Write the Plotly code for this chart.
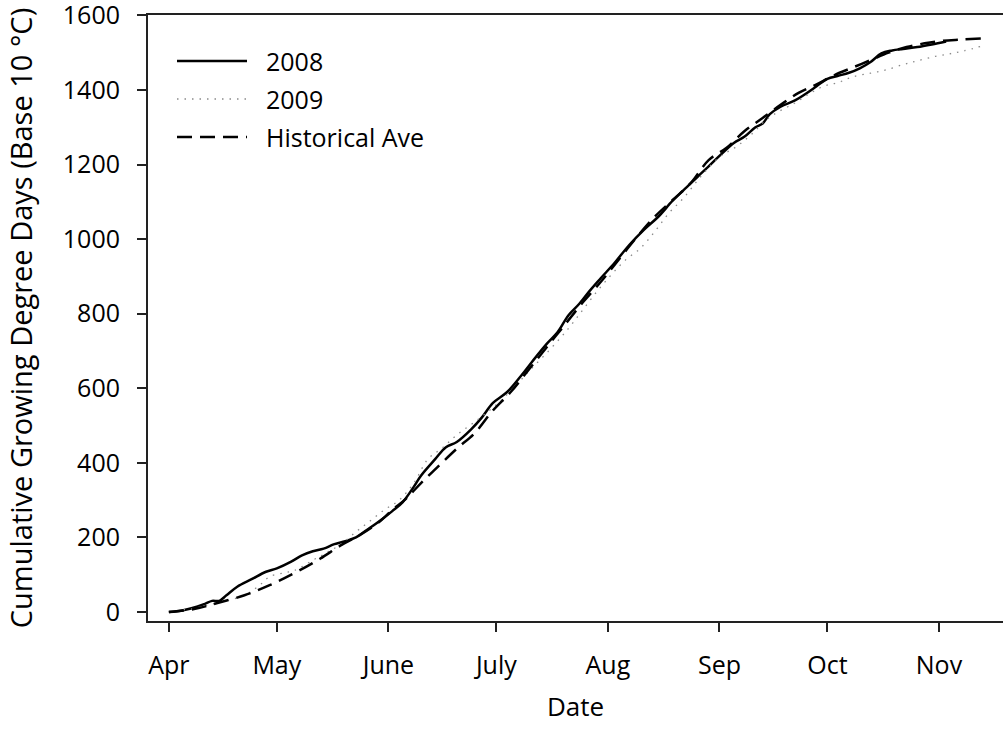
import plotly.graph_objects as go

# Days counted from 1 April; values are cumulative GDD (base 10 °C)
days_2008 = [0, 4, 8, 10, 12, 14, 16, 19, 23, 27, 30, 34, 37, 40, 43, 46, 49, 52, 55, 58,
             62, 65, 68, 70, 74, 77, 80, 84, 87, 90, 94, 98, 101, 105, 108, 111, 114, 117,
             120, 124, 128, 132, 136, 140, 144, 147, 150, 153, 157, 160, 163, 165, 167, 170,
             174, 177, 180, 183, 186, 189, 192, 195, 198, 201, 204, 208, 212, 216]
gdd_2008 = [0, 5, 15, 22, 30, 30, 45, 68, 88, 108, 117, 135, 152, 163, 170, 182, 190, 200, 220, 240,
            270, 295, 335, 365, 410, 442, 456, 490, 522, 560, 590, 635, 672, 719, 750, 795, 826, 862,
            895, 938, 985, 1025, 1060, 1103, 1140, 1168, 1195, 1223, 1258, 1275, 1300, 1310, 1335, 1355,
            1372, 1390, 1410, 1430, 1438, 1446, 1458, 1475, 1498, 1506, 1510, 1515, 1522, 1530]

days_2009 = [0, 3, 7, 11, 16, 21, 25, 28, 32, 35, 40, 44, 48, 52, 56, 60, 64, 68, 72, 76,
             80, 85, 90, 95, 100, 106, 111, 115, 119, 123, 127, 131, 135, 139, 143, 148, 153,
             158, 162, 166, 170, 174, 178, 182, 186, 190, 195, 199, 204, 208, 213, 217, 221, 226]
gdd_2009 = [0, 5, 10, 19, 30, 45, 70, 95, 105, 112, 139, 160, 183, 215, 245, 275, 300, 345, 410, 440,
            475, 510, 548, 593, 645, 705, 760, 810, 860, 905, 945, 975, 1020, 1070, 1110, 1170, 1220,
            1250, 1282, 1320, 1345, 1365, 1390, 1410, 1420, 1435, 1445, 1453, 1468, 1478, 1490, 1497, 1505, 1518]

days_hist = [0, 7, 13, 21, 28, 35, 42, 48, 53, 58, 62, 66, 70, 75, 80, 85, 90, 95, 100, 105,
             110, 115, 120, 125, 130, 135, 140, 145, 150, 155, 160, 165, 170, 175, 180, 185, 190,
             195, 200, 205, 210, 215, 220, 226]
gdd_hist = [0, 8, 23, 45, 72, 105, 143, 180, 206, 238, 273, 305, 345, 392, 438, 480, 540, 590, 650, 710,
            770, 830, 885, 945, 1005, 1060, 1105, 1150, 1212, 1245, 1290, 1325, 1360, 1392, 1415, 1440, 1460,
            1480, 1500, 1515, 1525, 1532, 1535, 1538]

month_days = [0, 30, 61, 91, 122, 153, 183, 214]
month_labels = ["Apr", "May", "June", "July", "Aug", "Sep", "Oct", "Nov"]
y_ticks = [0, 200, 400, 600, 800, 1000, 1200, 1400, 1600]

series = [
    ("2008", days_2008, gdd_2008, dict(color="black", width=2.5, dash="solid")),
    ("2009", days_2009, gdd_2009, dict(color="#8a8a8a", width=1.3, dash="1.5px,6px")),
    ("Historical Ave", days_hist, gdd_hist, dict(color="black", width=2.5, dash="15px,8px")),
]

FONT = "Open Sans"
W, H = 1003, 742
L, R, T, B = 148, 0, 15, 121

fig = go.Figure()
for name, xs, ys, ln in series:
    fig.add_trace(go.Scatter(x=xs, y=ys, mode="lines", name=name, line=ln,
                             line_shape="spline", showlegend=False))

# Hand-drawn legend in the upper-left corner
pw, ph = W - L - R, H - T - B
def px_x(p):
    return (p - L) / pw
def px_y(p):
    return (H - B - p) / ph

rows = [61, 99, 137]
for (name, _, _, ln), ry in zip(series, rows):
    fig.add_shape(type="line", xref="paper", yref="paper",
                  x0=px_x(177), x1=px_x(247), y0=px_y(ry), y1=px_y(ry),
                  line=ln)
    fig.add_annotation(xref="paper", yref="paper", x=px_x(264), y=px_y(ry),
                       text=name, showarrow=False, xanchor="left", yanchor="middle",
                       font=dict(family=FONT, size=25, color="black"))

fig.update_layout(
    width=W, height=H,
    margin=dict(l=L, r=R, t=T, b=B),
    plot_bgcolor="white", paper_bgcolor="white",
    font=dict(family=FONT, size=25, color="black"),
    showlegend=False,
)
fig.update_xaxes(
    range=[-5.8, 231.8], tickmode="array", tickvals=month_days, ticktext=month_labels,
    showline=True, linecolor="#222", linewidth=2, mirror=True,
    ticks="outside", ticklen=9, tickwidth=2, tickcolor="#222",
    showgrid=False, zeroline=False, ticklabelstandoff=12, automargin=False,
    title=dict(text="Date", font=dict(size=26), standoff=18),
)
fig.update_yaxes(
    range=[-24, 1601], tickmode="array", tickvals=y_ticks,
    showline=True, linecolor="#222", linewidth=2,
    ticks="outside", ticklen=9, tickwidth=2, tickcolor="#222",
    showgrid=False, zeroline=False, ticklabelstandoff=12, ticklabeloverflow="allow",
    automargin=False,
    title=dict(text="Cumulative Growing Degree Days (Base 10 °C)", font=dict(size=29), standoff=22),
)

fig.write_html("out.html")
